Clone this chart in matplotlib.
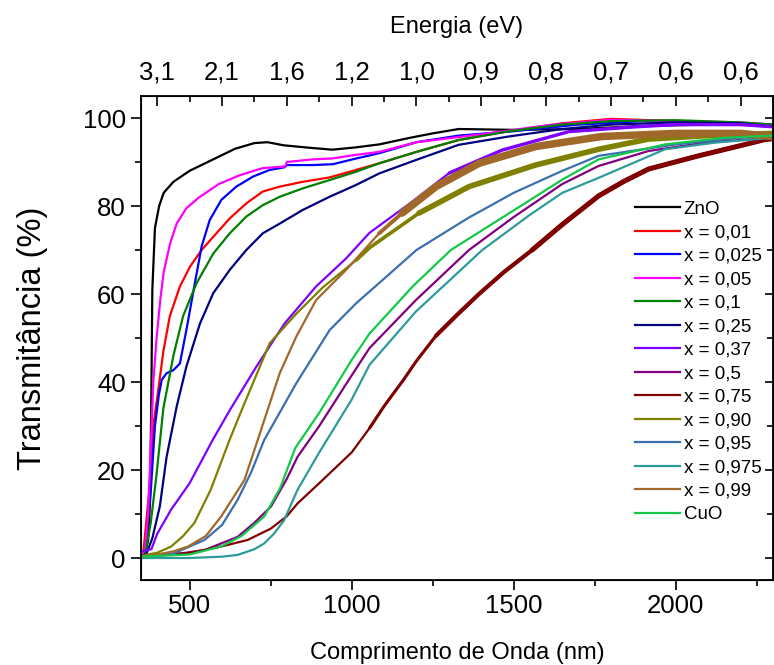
import numpy as np
import matplotlib
matplotlib.use("Agg")
import matplotlib.pyplot as plt
from matplotlib.ticker import MultipleLocator

plt.rcParams["font.family"] = ["Liberation Sans", "DejaVu Sans"]

# wavelength (nm) / transmittance (%), one pair of arrays per sample
znO_wl = [350, 362, 372, 378, 382, 385, 393, 406, 420, 450, 500, 570, 640, 700, 740, 790, 860, 940,
          1010, 1085, 1180, 1250, 1330, 1500, 1700, 1900, 2100, 2250, 2300]
znO_t = [0.5, 1, 4, 13, 38, 61, 75, 80, 83, 85.5, 88, 90.5, 93, 94.3, 94.5, 93.8, 93.3, 92.8,
         93.3, 94, 95.5, 96.5, 97.5, 97.3, 97.5, 98.2, 98.5, 98.5, 98]

x001_wl = [350, 357, 375, 388, 403, 419, 439, 470, 501, 537, 573, 624, 675, 726, 778, 849, 932,
           1014, 1085, 1200, 1330, 1485, 1650, 1800, 2000, 2200, 2300]
x001_t = [0.5, 1, 15, 30, 38, 47, 55, 61.7, 66.2, 70, 73, 77.2, 80.6, 83.3, 84.4, 85.5, 86.5,
          88.2, 89.7, 92.3, 95, 97, 98.8, 99.8, 99.3, 98.8, 98.5]

x0025_wl = [350, 362, 380, 393, 405, 414, 429, 450, 470, 490, 516, 537, 562, 598, 644, 696, 747,
            793, 800, 880, 942, 1014, 1085, 1200, 1330, 1500, 1700, 1900, 2100, 2300]
x0025_t = [0.5, 1.5, 15, 30, 37, 40.5, 42, 42.7, 44.2, 51.8, 62.4, 70.8, 76.8, 81.4, 84.4, 86.7, 88.2,
           88.8, 89.3, 89.3, 89.5, 90.8, 92, 94.5, 96, 97, 98.5, 99.3, 99, 98.5]

x005_wl = [350, 362, 372, 380, 388, 398, 410, 420, 440, 460, 490, 530, 590, 655, 725, 795, 800,
           880, 940, 1010, 1085, 1200, 1400, 1600, 1800, 2000, 2200, 2300]
x005_t = [0.5, 2, 10, 25, 40, 50, 59, 65, 71.5, 76, 79.5, 82, 85, 87, 88.6, 89, 90,
          90.6, 90.8, 91.6, 92.3, 94.5, 96.3, 98.3, 99.6, 99.3, 99, 98.5]

x01_wl = [350, 362, 380, 398, 419, 450, 480, 521, 573, 624, 675, 726, 778, 849, 932, 1014, 1085,
          1200, 1330, 1485, 1650, 1800, 2000, 2200, 2300]
x01_t = [0.3, 0.5, 8, 19, 34, 46, 55, 62.4, 69.2, 73.8, 77.6, 80.2, 82.1, 84, 85.9, 87.8, 89.7,
         92.3, 95, 97, 98.5, 99.3, 99.5, 99, 98.5]

x025_wl = [350, 367, 385, 408, 429, 460, 490, 532, 573, 624, 675, 726, 778, 849, 932, 1014, 1085,
           1200, 1330, 1485, 1650, 1800, 2000, 2200, 2300]
x025_t = [0.3, 1, 4.5, 11.7, 23, 34.4, 43.5, 53.3, 60.2, 65.5, 70, 73.8, 76, 79.1, 82.1, 84.8, 87.4,
          90.5, 93.9, 95.8, 97.5, 98.5, 99, 98.8, 98]

x037_wl = [350, 382, 400, 443, 500, 571, 624, 706, 793, 890, 983, 1055, 1187, 1301, 1464, 1670,
           1876, 2000, 2200, 2300]
x037_t = [1.5, 2, 5.5, 11, 17, 26.8, 33.6, 43.5, 53.3, 61.7, 68.1, 73.9, 81, 87.5, 92.7, 96.9,
          98, 98.5, 98.5, 98]

x05_wl = [350, 450, 546, 648, 700, 751, 800, 833, 900, 1000, 1055, 1198, 1362, 1500, 1650, 1762,
          1916, 2100, 2300]
x05_t = [0.3, 0.8, 1.8, 4.8, 8, 11.7, 18, 23, 30, 41.5, 47.7, 58.6, 70, 77.5, 85, 89.1,
         92.5, 94.5, 95.5]

x075_wl = [350, 420, 495, 597, 679, 751, 800, 833, 900, 1000, 1055, 1100, 1160, 1200, 1260, 1330,
           1393, 1470, 1557, 1650, 1762, 1840, 1916, 2070, 2193, 2275, 2300]
x075_t = [0.3, 0.8, 1.1, 2.6, 4.1, 6.7, 9.5, 12.4, 17, 24, 29.5, 34.5, 40.5, 44.8, 50.5, 55.6,
          60, 65, 70, 75.8, 82.3, 85.6, 88.4, 91.4, 93.6, 95.1, 95.3]

x090_wl = [350, 400, 443, 480, 515, 565, 623, 665, 747, 829, 911, 1014, 1055, 1208, 1362, 1567,
           1762, 1916, 2100, 2300]
x090_t = [0.5, 1.2, 2.6, 5, 8, 15.5, 26.8, 34.4, 48.8, 55.5, 61.5, 67.7, 70.5, 78.4, 84.4, 89.3,
          92.9, 95.2, 96, 96.5]

x095_wl = [350, 450, 546, 600, 648, 690, 730, 829, 932, 1014, 1085, 1200, 1360, 1500, 1650, 1762,
           2000, 2200, 2300]
x095_t = [0.3, 1, 4.1, 7.5, 13.2, 19.5, 26.8, 39.7, 51.8, 57.9, 62.5, 70, 77.3, 83, 88, 91.4,
          94, 95.5, 96]

x0975_wl = [350, 500, 600, 648, 700, 730, 760, 791, 833, 900, 1000, 1055, 1198, 1403, 1550, 1650,
            1762, 1967, 2121, 2300]
x0975_t = [0, 0, 0.3, 0.7, 2, 3.3, 5.5, 8.5, 15.5, 24, 36, 43.9, 56, 70, 78, 83,
           86.4, 92.9, 94.4, 95.5]

x099_wl = [350, 400, 450, 495, 550, 597, 669, 710, 778, 829, 890, 983, 1085, 1156, 1260, 1393,
           1567, 1772, 2000, 2200, 2300]
x099_t = [0.3, 0.8, 1.5, 2.6, 5, 9.4, 17.7, 26.8, 42, 50.3, 58.6, 65.5, 73.8, 78.4, 84.4, 89.7,
          93.5, 95.8, 96.5, 96.5, 95.8]

cuo_wl = [350, 500, 597, 660, 730, 780, 826, 900, 1000, 1055, 1188, 1306, 1500, 1650, 1762, 1967,
          2150, 2300]
cuo_t = [0.3, 0.8, 2.6, 5, 9.4, 16, 25, 33, 45, 51, 61.7, 70, 79, 86, 90.6, 94,
         95.5, 96]

labels = ["ZnO", "x = 0,01", "x = 0,025", "x = 0,05", "x = 0,1", "x = 0,25", "x = 0,37",
          "x = 0,5", "x = 0,75", "x = 0,90", "x = 0,95", "x = 0,975", "x = 0,99", "CuO"]
wavelengths = [znO_wl, x001_wl, x0025_wl, x005_wl, x01_wl, x025_wl, x037_wl,
               x05_wl, x075_wl, x090_wl, x095_wl, x0975_wl, x099_wl, cuo_wl]
transmit = [znO_t, x001_t, x0025_t, x005_t, x01_t, x025_t, x037_t,
            x05_t, x075_t, x090_t, x095_t, x0975_t, x099_t, cuo_t]
colors = ["#000000", "#ff0000", "#0000ff", "#ff00ff", "#008000", "#000080", "#8000ff",
          "#800080", "#800000", "#808000", "#3b6fb0", "#2e9b9b", "#a0692a", "#14c84a"]

# noisy NIR part of some spectra shows up as a thick band: (start nm, width pt) steps
band_steps = {"x = 0,37": [(1200, 2.4)],
              "x = 0,75": [(1050, 2.2), (1250, 3.0), (1500, 3.6)],
              "x = 0,90": [(1000, 2.6), (1200, 4.0)],
              "x = 0,99": [(1000, 2.8), (1150, 5.4)]}

top_ticks_nm = [400, 600, 800, 1000, 1200, 1400, 1600, 1800, 2000, 2200]
top_labels = ["3,1", "2,1", "1,6", "1,2", "1,0", "0,9", "0,8", "0,7", "0,6", "0,6"]

fig = plt.figure(figsize=(7.74, 6.65), dpi=100)
ax = fig.add_axes([141 / 774, 1 - 580 / 665, 632 / 774, 484 / 665])

for wl, t, lab, c in zip(wavelengths, transmit, labels, colors):
    ax.plot(wl, t, color=c, lw=1.6, label=lab, solid_joinstyle="round")
    wl_a, t_a = np.asarray(wl), np.asarray(t)
    for start, w in band_steps.get(lab, []):
        m = wl_a >= start
        ax.plot(wl_a[m], t_a[m], color=c, lw=w, solid_capstyle="round")

ax.set_xlim(350, 2300)
ax.set_ylim(-5, 105)
ax.xaxis.set_major_locator(MultipleLocator(500))
ax.xaxis.set_minor_locator(MultipleLocator(250))
ax.yaxis.set_major_locator(MultipleLocator(20))
ax.yaxis.set_minor_locator(MultipleLocator(10))
ax.tick_params(which="both", direction="out", width=1.2, labelsize=18.5)
ax.tick_params(axis="x", pad=3)
ax.tick_params(axis="y", pad=4)
ax.tick_params(which="major", length=7)
ax.tick_params(which="minor", length=4.5)
for s in ax.spines.values():
    s.set_linewidth(1.3)

right = ax.secondary_yaxis("right")
right.yaxis.set_major_locator(MultipleLocator(20))
right.yaxis.set_minor_locator(MultipleLocator(10))
right.tick_params(which="both", direction="in", width=1.2, labelright=False)
right.tick_params(which="major", length=6)
right.tick_params(which="minor", length=4)

ax.set_xlabel("Comprimento de Onda (nm)", fontsize=17, labelpad=17)
ax.set_ylabel("Transmitância (%)", fontsize=23.5, labelpad=25)

top = ax.twiny()
top.set_xlim(ax.get_xlim())
top.set_xticks(top_ticks_nm)
top.set_xticklabels(top_labels)
top.xaxis.set_minor_locator(MultipleLocator(100))
top.tick_params(which="both", direction="in", width=1.2, labelsize=18.5, pad=8)
top.tick_params(which="major", length=7)
top.tick_params(which="minor", length=4.5)
top.set_xlabel("Energia (eV)", fontsize=17, labelpad=20)

ax.legend(loc="upper left", bbox_to_anchor=(635 / 774, 1 - 200.5 / 665), bbox_transform=fig.transFigure,
          frameon=False, fontsize=13.5, handlelength=2.4, handletextpad=0.2,
          labelspacing=0.34, borderpad=0, borderaxespad=0)

fig.savefig("out.png", dpi=100)
